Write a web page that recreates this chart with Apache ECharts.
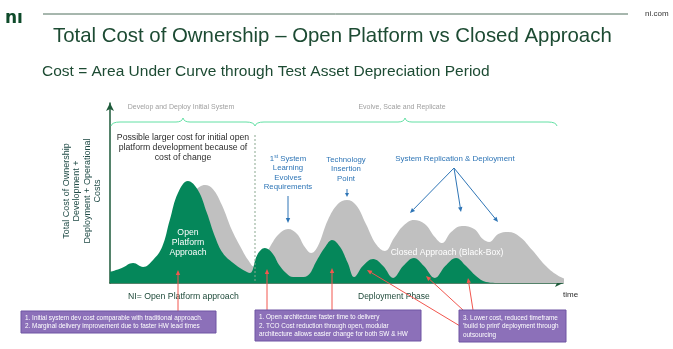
<!DOCTYPE html>
<html>
<head>
<meta charset="utf-8">
<script src="https://cdn.jsdelivr.net/npm/echarts@6/dist/echarts.min.js"></script>
<style>
  html, body { margin: 0; padding: 0; background: #ffffff; }
  #chart { width: 673px; height: 349px; }
</style>
</head>
<body>
<div id="chart"></div>
<script>
// Time along the asset life (0 = start, 100 = end of the time axis)
const closedTime = [0, 4.4, 8.8, 12.1, 14.3, 16.6, 18.8, 21.0, 22.7, 24.7, 26.9, 28.7, 30.5, 32.0, 33.6, 35.3, 37.3, 39.3, 41.3, 43.0, 44.4, 45.9, 48.1, 50.3, 52.3, 54.3, 56.5, 58.7, 60.7, 62.7, 64.7, 67.1, 69.5, 71.7, 73.3, 75.3, 77.7, 80.4, 82.3, 83.7, 85.7, 87.9, 90.5, 93.2, 96.0, 98.7, 101.1, 103.8];
// Cost of the closed (black-box) approach
const closedCost = [3.9, 6.1, 9.4, 18.3, 28.3, 41.7, 51.1, 54.4, 52.2, 43.3, 29.4, 20.6, 12.8, 8.9, 11.7, 20.0, 27.2, 30.0, 27.2, 20.0, 16.7, 20.6, 35.0, 43.9, 46.1, 43.3, 32.8, 21.7, 17.8, 25.0, 31.7, 35.0, 32.8, 25.6, 22.2, 28.3, 31.7, 30.0, 24.4, 22.8, 27.2, 28.3, 25.6, 18.3, 10.0, 4.4, 1.7, 0];

const openTime = [0, 2.6, 5.1, 7.3, 9.5, 11.5, 13.2, 15.0, 17.2, 19.4, 21.4, 23.2, 24.9, 27.2, 29.4, 30.9, 32.5, 34.2, 35.8, 37.5, 39.1, 40.4, 41.9, 43.5, 45.7, 47.5, 49.0, 50.8, 52.5, 53.9, 55.8, 58.1, 60.3, 62.5, 64.7, 67.1, 69.3, 71.7, 74.0, 76.4, 78.6, 80.8, 83.0, 86.1];
// Cost of the open platform approach
const openCost = [6.1, 8.3, 11.1, 8.9, 12.8, 20.0, 35.0, 50.0, 56.7, 51.7, 38.9, 25.6, 16.7, 11.1, 7.2, 5.6, 15.6, 19.4, 16.7, 9.4, 5.0, 3.3, 3.3, 3.9, 12.8, 20.0, 23.9, 20.0, 11.1, 3.3, 9.4, 13.3, 9.4, 2.8, 9.4, 13.9, 9.4, 2.8, 9.4, 13.9, 9.4, 3.9, 0.6, 0];

const FONT = '"Liberation Sans", Arial, sans-serif';
const GREEN_DARK = '#1d4b33';
const BLUE = '#2e75b6';
const RED = '#f2564e';
const BRACE = '#62e0a4';

function pairs(xs, ys) { return xs.map((x, i) => [x, ys[i]]); }

function txt(text, x, y, size, color, align, extra) {
  return {
    type: 'text', silent: true,
    style: Object.assign({
      text: text, x: x, y: y, fill: color,
      fontSize: size, fontFamily: FONT,
      align: align || 'left', textAlign: align || 'left',
      verticalAlign: 'middle', textVerticalAlign: 'middle'
    }, extra || {})
  };
}

function arrow(x1, y1, x2, y2, color, len, half) {
  const a = Math.atan2(y2 - y1, x2 - x1);
  const L = len || 5, W = half || 2.2;
  const bx = x2 - L * Math.cos(a), by = y2 - L * Math.sin(a);
  const nx = -Math.sin(a) * W, ny = Math.cos(a) * W;
  return [
    { type: 'line', silent: true, shape: { x1: x1, y1: y1, x2: bx, y2: by }, style: { stroke: color, lineWidth: 1 } },
    { type: 'polygon', silent: true, shape: { points: [[x2, y2], [bx + nx, by + ny], [bx - nx, by - ny]] }, style: { fill: color } }
  ];
}

function curve(x1, y1, cx, cy, x2, y2) {
  return { type: 'bezierCurve', silent: true, shape: { x1: x1, y1: y1, cpx1: cx, cpy1: cy, x2: x2, y2: y2 }, style: { stroke: BRACE, lineWidth: 1, fill: null } };
}
function seg(x1, y1, x2, y2, color, dash) {
  return { type: 'line', silent: true, shape: { x1: x1, y1: y1, x2: x2, y2: y2 }, style: { stroke: color, lineWidth: 1, lineDash: dash || null } };
}
// horizontal curly brace from xa to xb, tip at xm
function brace(xa, xm, xb, y) {
  return [
    curve(xa, y + 4, xa + 1, y, xa + 9, y),
    seg(xa + 9, y, xm - 7, y, BRACE),
    curve(xm - 7, y, xm - 1, y, xm, y - 4),
    curve(xm, y - 4, xm + 1, y, xm + 7, y),
    seg(xm + 7, y, xb - 9, y, BRACE),
    curve(xb - 9, y, xb - 1, y, xb, y + 4)
  ];
}

function box(x, y, w, h, lines) {
  return [
    { type: 'rect', silent: true, shape: { x: x, y: y, width: w, height: h }, style: { fill: '#8c70b9', stroke: '#6f55a3', lineWidth: 1 } },
    txt(lines.join('\n'), x + 4, y + h / 2 + 0.5, 6.4, '#ffffff', 'left', { lineHeight: 8.4 })
  ];
}

const graphics = [
  // header
  txt('nı', 5, 19, 17, '#0e4a2a', 'left', { fontWeight: 'bold', fontFamily: '"DejaVu Sans", sans-serif' }),
  seg(43, 14, 628, 14, '#4f6e5c'),
  txt('ni.com', 645, 14, 8, '#333333'),
  txt('Total Cost of Ownership – Open Platform vs Closed Approach', 53, 36, 20.4, GREEN_DARK),
  txt('Cost = Area Under Curve through Test Asset Depreciation Period', 42, 72, 15.5, GREEN_DARK),

  // phase headers
  txt('Develop and Deploy Initial System', 181, 107, 7, '#a0a0a0', 'center'),
  txt('Evolve, Scale and Replicate', 402, 107, 7, '#a0a0a0', 'center'),
  seg(255, 135, 255, 283, '#8aa890', [2, 2]),

  // y-axis title
  {
    type: 'text', silent: true, x: 82, y: 191, rotation: Math.PI / 2,
    style: {
      text: 'Total Cost of Ownership\nDevelopment +\nDeployment + Operational\nCosts',
      x: 0, y: 0, fill: '#1f4a45', fontSize: 9, fontFamily: FONT, lineHeight: 10.4,
      align: 'center', textAlign: 'center', verticalAlign: 'middle', textVerticalAlign: 'middle'
    }
  },

  // notes above the curves
  txt('Possible larger cost for initial open\nplatform development because of\ncost of change', 183, 148, 8.7, '#2b2b2b', 'center', { lineHeight: 10 }),
  txt('1{s|st} System\nLearning\nEvolves\nRequirements', 288, 173, 7.8, BLUE, 'center', { lineHeight: 9.5, rich: { s: { fontSize: 5, fill: BLUE, verticalAlign: 'top', fontFamily: FONT } } }),
  txt('Technology\nInsertion\nPoint', 346, 169, 7.8, BLUE, 'center', { lineHeight: 9.5 }),
  txt('System Replication & Deployment', 455, 159, 7.9, BLUE, 'center'),

  // labels inside the areas
  txt('Open\nPlatform\nApproach', 188, 243, 8.7, '#ffffff', 'center', { lineHeight: 10 }),
  txt('Closed Approach (Black-Box)', 447, 253, 8.6, '#ffffff', 'center'),

  // labels below the axis
  txt('NI= Open Platform approach', 128, 297, 8.7, '#1f4a3a'),
  txt('Deployment Phase', 358, 297, 8.5, '#1f4a3a'),
  txt('time', 563, 295, 8, '#2b2b2b')
]
  .concat(brace(111, 183, 255, 122))
  .concat(brace(255, 405, 557, 122))
  .concat(arrow(288, 196, 288, 223, BLUE))
  .concat(arrow(347, 189, 347, 197, BLUE, 4, 2))
  .concat(arrow(454, 168, 410, 213, BLUE))
  .concat(arrow(454, 168, 461, 212, BLUE))
  .concat(arrow(454, 168, 498, 222, BLUE))
  .concat(arrow(178, 311, 178, 270, RED))
  .concat(arrow(267, 310, 267, 269, RED))
  .concat(arrow(332, 310, 332, 268, RED))
  .concat(arrow(460, 326, 367, 270, RED))
  .concat(arrow(463, 310, 426, 276, RED))
  .concat(arrow(473, 310, 468, 278, RED))
  .concat(box(21, 311, 195, 22, [
    '1. Initial system dev cost comparable with traditional approach.',
    '2. Marginal delivery improvement due to faster HW lead times'
  ]))
  .concat(box(255, 310, 166, 31, [
    '1. Open architecture faster time to delivery',
    '2. TCO Cost reduction through open, modular',
    'architecture allows easier change for both SW & HW'
  ]))
  .concat(box(459, 310, 107, 32, [
    '3. Lower cost, reduced timeframe',
    '\'build to print\' deployment through',
    'outsourcing'
  ]))
  // keep annotations above the filled areas, later entries on top
  .map((el, i) => Object.assign(el, { z: 10 + i * 0.01 }));

const chart = echarts.init(document.getElementById('chart'), null, { renderer: 'canvas' });
chart.setOption({
  animation: false,
  backgroundColor: '#ffffff',
  grid: { left: 110, top: 103, width: 453, height: 180 },
  xAxis: {
    type: 'value', min: 0, max: 100,
    axisLine: { show: true, symbol: ['none', 'arrow'], symbolSize: [6, 8], lineStyle: { color: '#1d5a3a', width: 1.5 } },
    axisTick: { show: false }, axisLabel: { show: false }, splitLine: { show: false }
  },
  yAxis: {
    type: 'value', min: 0, max: 100,
    axisLine: { show: true, symbol: ['none', 'arrow'], symbolSize: [6, 8], lineStyle: { color: '#1d5a3a', width: 1.5 } },
    axisTick: { show: false }, axisLabel: { show: false }, splitLine: { show: false }
  },
  series: [
    {
      name: 'Closed Approach (Black-Box)', type: 'line', data: pairs(closedTime, closedCost),
      smooth: 0.4, symbol: 'none', clip: false, z: 1,
      lineStyle: { opacity: 0 }, areaStyle: { color: '#c0c0c0', opacity: 1 }
    },
    {
      name: 'Open Platform Approach', type: 'line', data: pairs(openTime, openCost),
      smooth: 0.4, symbol: 'none', z: 2,
      lineStyle: { opacity: 0 }, areaStyle: { color: '#05875a', opacity: 1 }
    }
  ],
  graphic: { elements: graphics }
});
</script>
</body>
</html>
